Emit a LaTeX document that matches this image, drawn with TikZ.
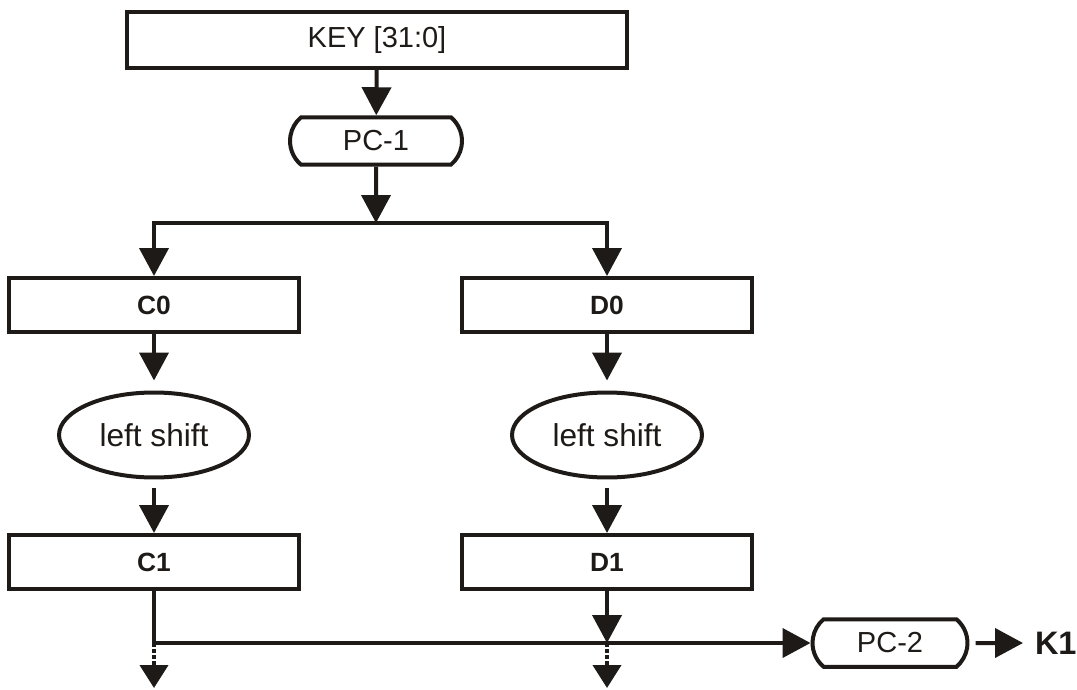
\documentclass[tikz,border=0pt]{standalone}
\usepackage{fontspec}
\setmainfont{Liberation Sans}
\usetikzlibrary{arrows.meta,positioning,shapes.geometric,shapes.misc}
\definecolor{ink}{HTML}{1E1A17}

\begin{document}
\begin{tikzpicture}[
        x=0.02cm,
        y=-0.02cm,
        font=\fontsize{16.5}{19}\selectfont,
        line width=0.08cm,
        color=ink,
        flow/.style={-{Triangle[width=0.58cm,length=0.56cm]}},
        tap/.style={-{Triangle[width=0.56cm,length=0.46cm]}, dash pattern=on 0.07cm off 0.05cm},
        reg/.style={draw, rectangle, minimum width=5.8cm, minimum height=1.08cm, inner sep=0pt, font=\fontsize{15}{18}\selectfont\bfseries},
        perm/.style={draw, rounded rectangle, rounded rectangle arc length=100, minimum height=0.95cm, inner sep=0pt},
        op/.style={draw, ellipse, minimum width=3.8cm, minimum height=1.7cm, inner sep=0pt, font=\fontsize{18}{21}\selectfont}
    ]
        \useasboundingbox (0,0) rectangle (1077,689);

        \node[draw, rectangle, minimum width=10cm, minimum height=1.12cm, inner sep=0pt] (key) at (377,40) {KEY [31:0]};
        \node[perm, minimum width=3.44cm] (pc1) at (376,141) {PC-1};
        \coordinate (split) at (376,223);

        \node[reg] (c0) at (154,305) {C0};
        \node[reg] (d0) at (607,305) {D0};
        \node[op] (shc) at (154,435) {left shift};
        \node[op] (shd) at (607,435) {left shift};
        \node[reg] (c1) at (154,562) {C1};
        \node[reg] (d1) at (607,562) {D1};

        \node[perm, minimum width=3.1cm] (pc2) at (890,643) {PC-2};
        \node[anchor=west, inner xsep=0.2cm, inner ysep=0pt, font=\fontsize{18.5}{22}\selectfont\bfseries] (k1) at (1023,643) {K1};

        \coordinate (jc) at (154,643);
        \coordinate (jd) at (607,643);
        \coordinate (outc) at (154,688);
        \coordinate (outd) at (607,688);

        \draw[flow] (key) -- (pc1);
        \draw[flow] (pc1) -- (split);
        \draw[flow] (split) -| (c0);
        \draw[flow] (split) -| (d0);

        \draw[flow, shorten >=0.2cm] (c0) -- (shc);
        \draw[flow, shorten >=0.2cm] (d0) -- (shd);
        \draw[flow, shorten <=0.18cm] (shc) -- (c1);
        \draw[flow, shorten <=0.18cm] (shd) -- (d1);

        \draw[flow] (c1) -- (jc) -- (pc2);
        \draw[flow] (d1) -- (jd);
        \draw[tap] (jc) -- (outc);
        \draw[tap] (jd) -- (outd);
        \draw[flow, shorten <=0.12cm] (pc2) -- (k1);
    \end{tikzpicture}
\end{document}
